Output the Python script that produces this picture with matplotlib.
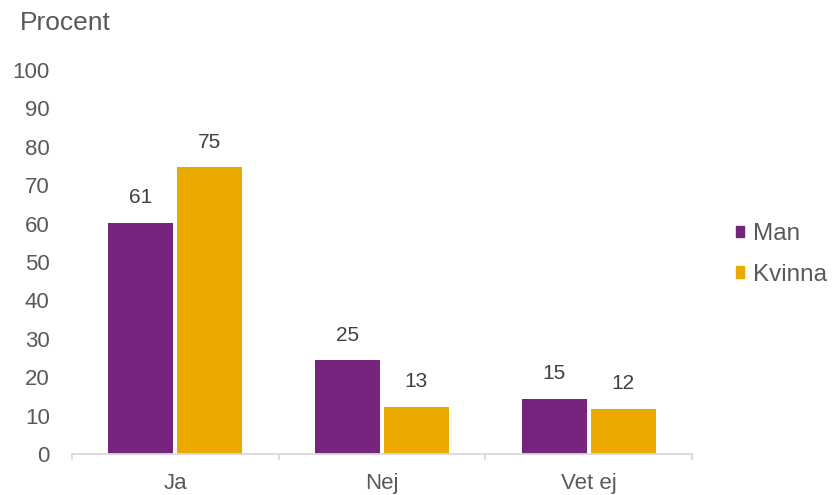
import numpy as np
import matplotlib.pyplot as plt
from matplotlib.patches import Patch

plt.rcParams['font.family'] = ['Liberation Sans', 'DejaVu Sans']

# Data
categories = ['Ja', 'Nej', 'Vet ej']
man = [60.2, 24.4, 14.4]
kvinna = [74.7, 12.3, 11.8]
man_labels = ['61', '25', '15']
kvinna_labels = ['75', '13', '12']

purple = '#76257F'
gold = '#EAAA00'
text_col = '#595959'
axis_col = '#D9D9D9'

fig = plt.figure(figsize=(8.33, 4.95), dpi=100)
ax = fig.add_axes([0.0864, 0.0828, 0.7443, 0.7758])

x = np.arange(len(categories))
w = 0.315
off = 0.167
b1 = ax.bar(x - off, man, width=w, color=purple)
b2 = ax.bar(x + off, kvinna, width=w, color=gold)

# Data labels
for bars, labels in [(b1, man_labels), (b2, kvinna_labels)]:
    for bar, lab in zip(bars, labels):
        ax.annotate(lab, (bar.get_x() + bar.get_width() / 2, bar.get_height()),
                    xytext=(0, 18), textcoords='offset points',
                    ha='center', va='center', fontsize=15, color='#404040')

ax.set_xlim(-0.5, 2.5)
ax.set_ylim(0, 100)
ax.set_yticks(range(0, 101, 10))
ax.set_xticks(x)
ax.set_xticklabels(categories)
ax.set_xticks([-0.5, 0.5, 1.5, 2.5], minor=True)

ax.tick_params(axis='y', length=0, pad=16, labelsize=16, labelcolor=text_col)
ax.tick_params(axis='x', which='major', length=0, pad=14, labelsize=16, labelcolor=text_col)
ax.tick_params(axis='x', which='minor', length=4, width=1.3, color=axis_col)

for s in ['top', 'right', 'left']:
    ax.spines[s].set_visible(False)
ax.spines['bottom'].set_color(axis_col)
ax.spines['bottom'].set_linewidth(1.3)

fig.text(20 / 833, 1 - 23 / 495, 'Procent', fontsize=19, color=text_col, va='center', ha='left')

# Legend
handles = [Patch(color=purple, label='Man'), Patch(color=gold, label='Kvinna')]
fig.legend(handles=handles, loc='center left', bbox_to_anchor=(0.883, 0.486),
           frameon=False, fontsize=17.5, labelcolor=text_col,
           handlelength=0.35, handleheight=0.35, handletextpad=0.35, labelspacing=0.75,
           borderpad=0, borderaxespad=0)

fig.savefig('out.png', dpi=100)
